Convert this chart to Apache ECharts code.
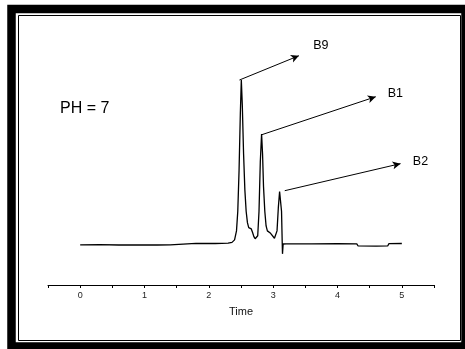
<!DOCTYPE html>
<html>
<head>
<meta charset="utf-8">
<script src="https://cdn.jsdelivr.net/npm/echarts@6/dist/echarts.min.js"></script>
<style>html,body{margin:0;padding:0;background:#fff}#c{width:465px;height:349px}</style>
</head>
<body>
<div id="c"></div>
<script>
// chromatogram trace: [time, signal]
var times = [0,0.3,0.6,0.9,1.2,1.4,1.42,1.8,2.1,2.3,2.36,2.40,2.43,2.45,2.47,2.49,2.505,2.52,2.54,2.56,2.58,2.60,2.62,2.64,2.66,2.68,2.70,2.72,2.74,2.76,2.78,2.80,2.82,2.835,2.85,2.87,2.89,2.91,2.93,2.96,2.99,3.02,3.04,3.06,3.08,3.10,3.115,3.13,3.14,3.145,3.15,3.155,3.2,3.6,4.0,4.3,4.32,4.6,4.78,4.8,5.0];
var signal = [-0.5,-0.4,-0.6,-0.5,-0.6,-0.5,0.4,0.4,0.3,0.5,1.0,2.5,8,20,45,80,100,85,55,33,20,13,10,9.5,9.2,7,4.5,3.2,3,5,20,50,67,55,35,20,11,8,7,6.5,5.5,3.5,3.5,8,22,32,33,20,2,-6,-5.5,0,0.1,0.1,0.2,0.1,-1.2,-1.3,-1.2,0.2,0.3];
var xTickLabels = ['0','1','2','3','4','5'];
// peak annotations: name, arrow start, arrow tip, label position
var peakNames = ['B9','B1','B2'];
var arrowStart = [[2.476,100],[2.82,66.6],[3.18,32.5]];
var arrowEnd = [[3.40,114.8],[4.595,89.8],[4.98,49.0]];
var labelPos = [[3.74,121.3],[4.90,91.5],[5.29,50.2]];
var phText = 'PH = 7';
var phPos = [0.07,82.3];

var data = times.map(function(t,i){return [t, signal[i]];});
var mlData = peakNames.map(function(n,i){
  return [{coord: arrowStart[i]}, {coord: arrowEnd[i]}];
});
var mpData = peakNames.map(function(n,i){
  return {name:n, coord: labelPos[i], label:{formatter:n, fontSize:12.5}};
});
mpData.push({name:phText, coord: phPos, label:{formatter:phText, fontSize:16}});

var chart = echarts.init(document.getElementById('c'));
chart.setOption({
  animation:false,
  backgroundColor:'#fff',
  textStyle:{fontFamily:'Liberation Sans, Arial, sans-serif'},
  grid:{left:48, right:31, top:30.8, bottom:64},
  xAxis:{
    type:'value', min:-0.5, max:5.5, interval:0.5,
    axisLine:{show:true, onZero:false, lineStyle:{color:'#000', width:1}},
    axisTick:{show:true, length:3, inside:false, lineStyle:{color:'#000'}},
    splitLine:{show:false},
    axisLabel:{fontSize:9, color:'#222', margin:6, showMinLabel:true, showMaxLabel:true,
      formatter:function(v){
        var s = String(v);
        return xTickLabels.indexOf(s) >= 0 ? s : '';
      }},
    name:'Time', nameLocation:'middle', nameGap:21,
    nameTextStyle:{fontSize:11, color:'#111'}
  },
  yAxis:{type:'value', min:-25, max:130, show:false},
  series:[{
    type:'line', data:data, symbol:'none', clip:false,
    lineStyle:{color:'#000', width:1.3},
    markLine:{
      silent:true, symbol:['none','arrow'], symbolSize:[6,8],
      lineStyle:{color:'#000', width:1, type:'solid'},
      label:{show:false},
      data:mlData
    },
    markPoint:{
      symbol:'circle', symbolSize:0, silent:true,
      label:{show:true, position:'inside', color:'#000'},
      data:mpData
    }
  }],
  graphic:[
    {type:'rect', shape:{x:11.5, y:9, width:454, height:337.5}, style:{fill:'none', stroke:'#000', lineWidth:8.5}, silent:true},
    {type:'rect', shape:{x:18.5, y:15.5, width:442, height:325}, style:{fill:'none', stroke:'#000', lineWidth:1}, silent:true}
  ]
});
</script>
</body>
</html>
